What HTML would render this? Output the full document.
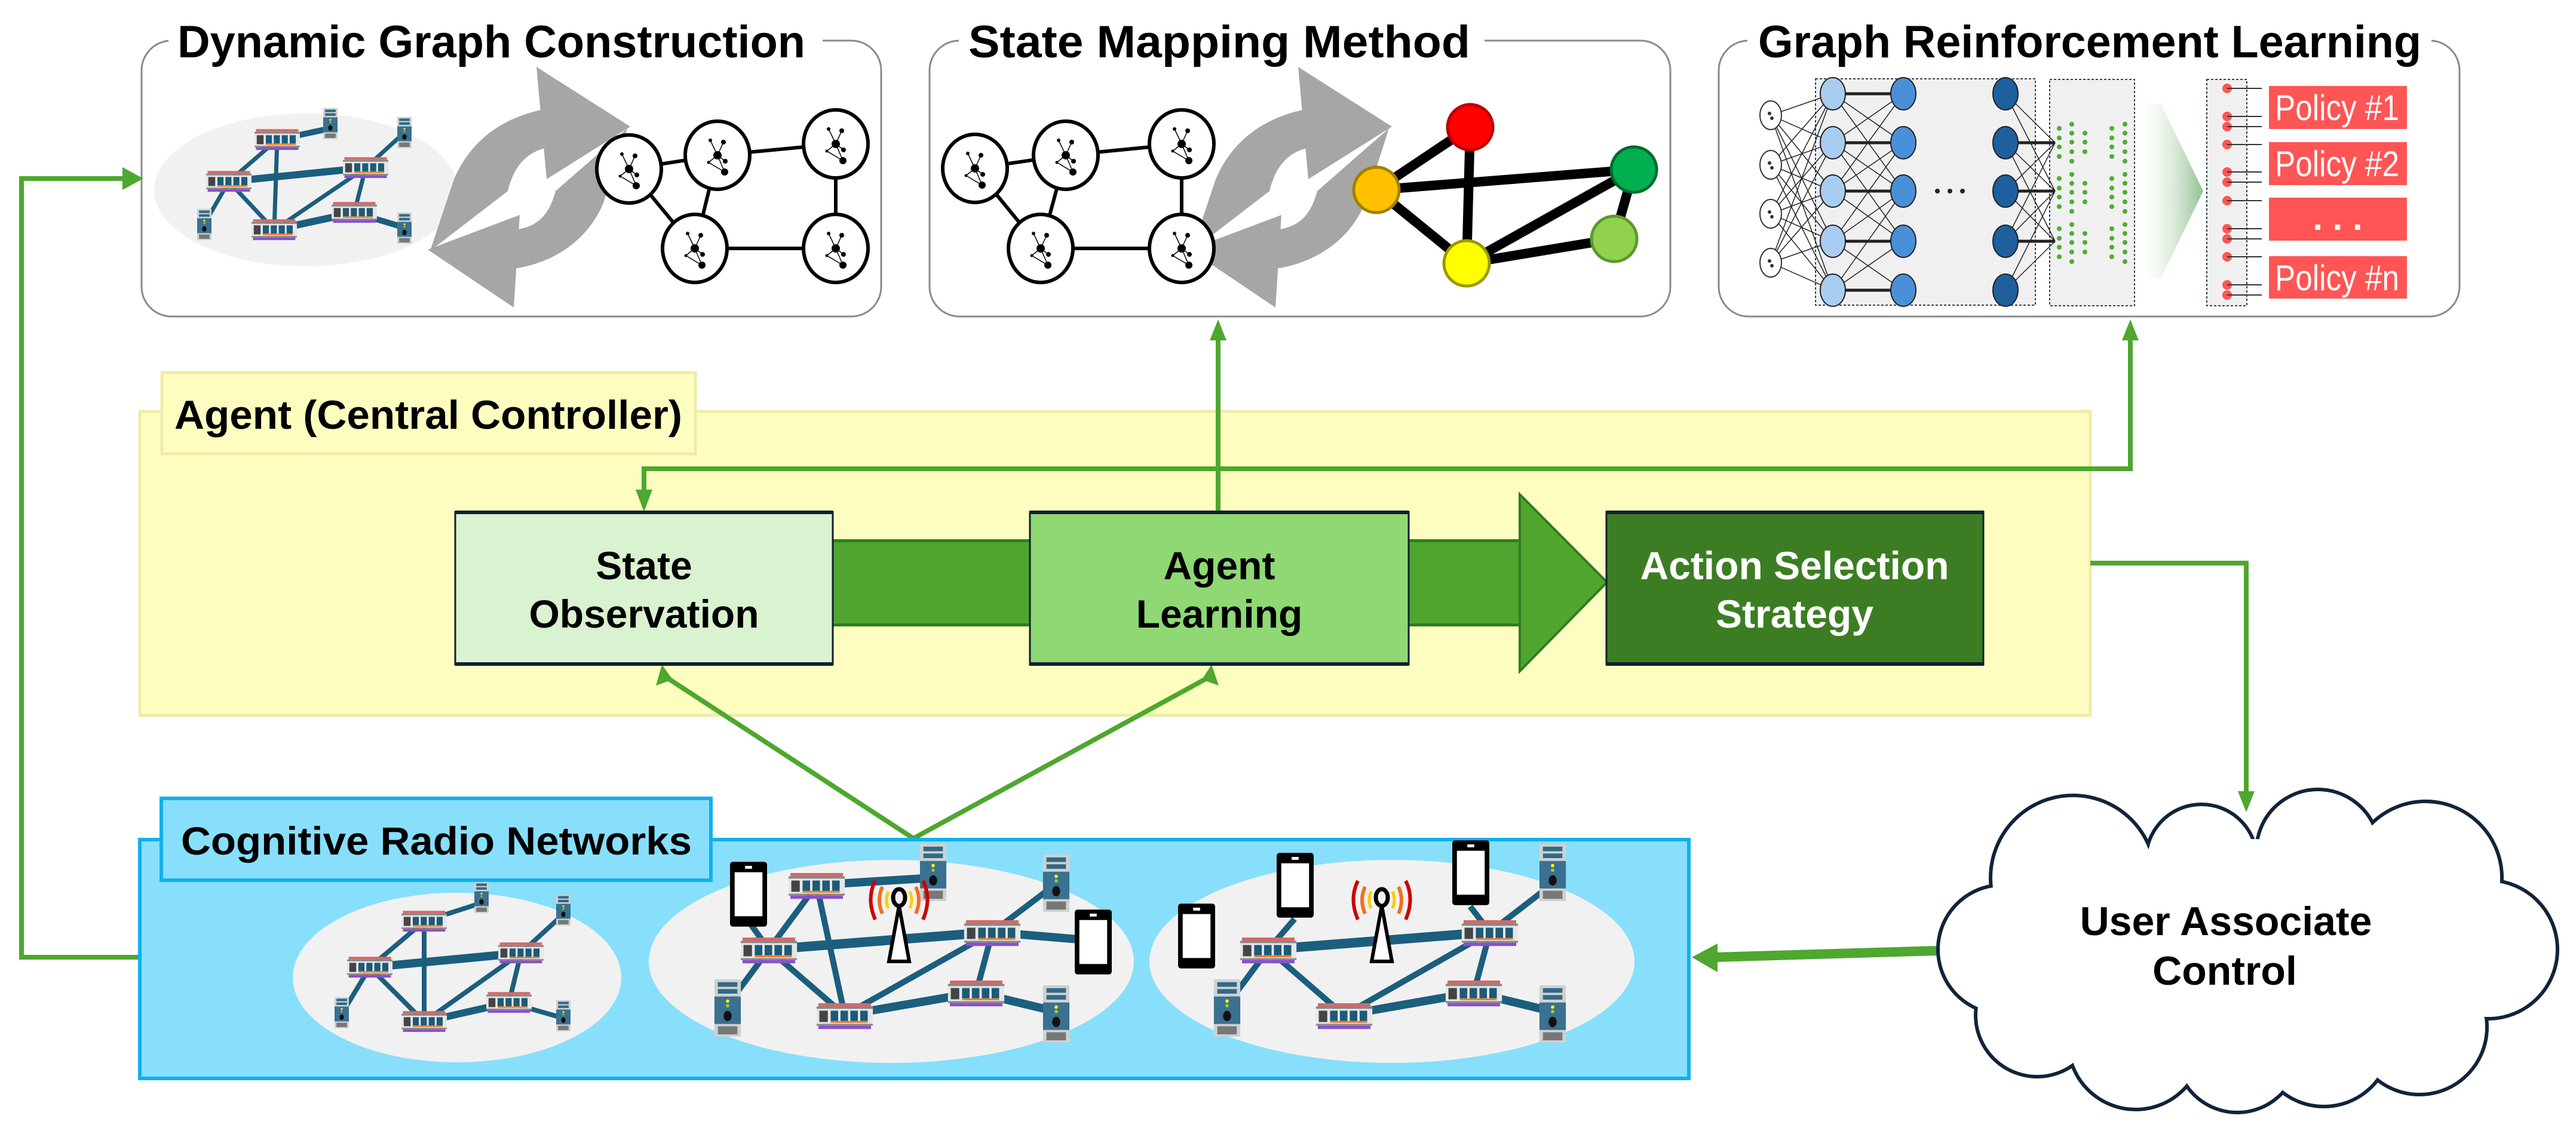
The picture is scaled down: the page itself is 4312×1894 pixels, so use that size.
<!DOCTYPE html>
<html><head><meta charset="utf-8"><style>
html,body{margin:0;padding:0;background:#fff;}
svg{display:block;}
text{font-family:"Liberation Sans",sans-serif;font-weight:bold;}
</style></head><body>
<svg width="4312" height="1894" viewBox="0 0 4312 1894" xmlns="http://www.w3.org/2000/svg">
<defs>
<symbol id="rt" viewBox="0 0 120 56" width="120" height="56">
<rect x="4" y="0" width="112" height="7" fill="#d56868"/>
<rect x="0" y="7" width="120" height="5" fill="#888"/>
<rect x="0" y="12" width="120" height="32" fill="#e6e6e6"/>
<rect x="6" y="16" width="18" height="24" fill="#444"/>
<rect x="30" y="16" width="16" height="22" fill="#1c5a78"/>
<rect x="51" y="16" width="16" height="22" fill="#1c5a78"/>
<rect x="72" y="16" width="16" height="22" fill="#1c5a78"/>
<rect x="93" y="16" width="16" height="22" fill="#1c5a78"/>
<rect x="30" y="38" width="79" height="4" fill="#f08030"/>
<rect x="0" y="44" width="120" height="4" fill="#888"/>
<rect x="4" y="48" width="112" height="7" fill="#8a4fd0"/>
</symbol>
<symbol id="sv" viewBox="0 0 46 100" width="46" height="100">
<rect x="0" y="0" width="46" height="30" fill="#d0d0d0"/>
<rect x="6" y="5" width="34" height="8" fill="#2f6a85"/>
<rect x="6" y="17" width="34" height="8" fill="#2f6a85"/>
<rect x="0" y="30" width="46" height="48" fill="#3a7090"/>
<circle cx="23" cy="38" r="3" fill="#ff0"/>
<circle cx="23" cy="46" r="3" fill="#9c3"/>
<ellipse cx="23" cy="64" rx="7" ry="9" fill="#111"/>
<rect x="0" y="78" width="46" height="22" fill="#d0d0d0"/>
<rect x="6" y="82" width="34" height="14" fill="#777"/>
</symbol>
<symbol id="ph" viewBox="0 0 64 112" width="64" height="112">
<rect x="0" y="0" width="64" height="112" rx="5" fill="#000"/>
<rect x="8" y="18" width="48" height="76" fill="#fff"/>
<rect x="26" y="7" width="12" height="5" fill="#fff"/>
</symbol>
<symbol id="tw" viewBox="0 0 110 150" width="110" height="150">
<path d="M15 10 Q0 40 15 75" stroke="#c00" stroke-width="6" fill="none"/>
<path d="M95 10 Q110 40 95 75" stroke="#c00" stroke-width="6" fill="none"/>
<path d="M27 20 Q17 42 27 65" stroke="#f07020" stroke-width="6" fill="none"/>
<path d="M83 20 Q93 42 83 65" stroke="#f07020" stroke-width="6" fill="none"/>
<path d="M37 28 Q31 42 37 56" stroke="#fc0" stroke-width="5" fill="none"/>
<path d="M73 28 Q79 42 73 56" stroke="#fc0" stroke-width="5" fill="none"/>
<ellipse cx="55" cy="38" rx="10" ry="14" fill="none" stroke="#000" stroke-width="7"/>
<path d="M55 52 L38 145 L72 145 Z" fill="#fff" stroke="#000" stroke-width="6"/>
</symbol>
<symbol id="gn" viewBox="-60 -60 120 120" width="120" height="120">
<ellipse cx="0" cy="0" rx="54" ry="57" fill="#fff" stroke="#000" stroke-width="6"/>
<g stroke="#000" stroke-width="1.5">
<line x1="0" y1="0" x2="-12" y2="-25"/><line x1="0" y1="0" x2="10" y2="-22"/><line x1="0" y1="0" x2="13" y2="10"/><line x1="0" y1="0" x2="12" y2="28"/><line x1="-15" y1="12" x2="12" y2="28"/><line x1="0" y1="0" x2="-15" y2="12"/>
</g>
<g fill="#000"><circle cx="0" cy="0" r="7"/><circle cx="-12" cy="-25" r="3"/><circle cx="10" cy="-22" r="4"/><circle cx="13" cy="10" r="4"/><circle cx="12" cy="28" r="6"/><circle cx="-15" cy="12" r="2.5"/></g>
</symbol>
<linearGradient id="ga" x1="0" x2="1" y1="0" y2="0"><stop offset="0" stop-color="#fff" stop-opacity="0"/><stop offset="1" stop-color="#8fc08f"/></linearGradient>
</defs>

<!-- ===== Panel 1 ===== -->
<rect x="237" y="68" width="1238" height="462" rx="50" fill="#fff" stroke="#8a8a8a" stroke-width="3"/>
<rect x="282" y="30" width="1095" height="80" fill="#fff"/>
<text x="297" y="96" font-size="76" textLength="1051" lengthAdjust="spacingAndGlyphs">Dynamic Graph Construction</text>
<ellipse cx="512" cy="318" rx="254" ry="128" fill="#f1f1f1"/>
<g stroke="#1b5e7e" stroke-width="7">
<line x1="464" y1="234" x2="383" y2="304"/><line x1="464" y1="234" x2="459" y2="385"/><line x1="383" y1="304" x2="612" y2="281" stroke-width="12"/><line x1="383" y1="304" x2="459" y2="385"/><line x1="612" y1="281" x2="459" y2="385"/><line x1="612" y1="281" x2="593" y2="356"/><line x1="459" y1="385" x2="593" y2="356" stroke-width="12"/><line x1="464" y1="234" x2="553" y2="215" stroke-width="10"/><line x1="612" y1="281" x2="677" y2="222"/><line x1="383" y1="304" x2="342" y2="375"/><line x1="593" y1="356" x2="677" y2="381" stroke-width="10"/>
</g>
<g>
<use href="#rt" x="426" y="214" width="76" height="40"/><use href="#rt" x="345" y="284" width="76" height="40"/><use href="#rt" x="574" y="261" width="76" height="40"/><use href="#rt" x="555" y="336" width="76" height="40"/><use href="#rt" x="421" y="365" width="76" height="40"/>
<use href="#sv" x="541" y="172" width="24" height="70"/><use href="#sv" x="665" y="186" width="24" height="72"/><use href="#sv" x="330" y="340" width="24" height="72"/><use href="#sv" x="665" y="346" width="24" height="72"/>
</g>
<g id="arr1" fill="#a6a6a6">
<path d="M720 420 L760 300 C 790 230 850 190 930 180 L 930 245 C 880 250 860 280 850 320 Z"/>
<polygon points="898,112 1055,212 915,300"/>
<path d="M1050 215 L1010 340 C 985 400 930 440 860 450 L 860 385 C 905 380 920 355 930 320 Z"/>
<polygon points="870,360 716,418 860,515"/>
</g>
<g stroke="#000" stroke-width="6">
<line x1="1053" y1="283" x2="1201" y2="260"/><line x1="1201" y1="260" x2="1399" y2="241"/><line x1="1201" y1="260" x2="1163" y2="416"/><line x1="1053" y1="283" x2="1163" y2="416"/><line x1="1163" y1="416" x2="1399" y2="416"/><line x1="1399" y1="241" x2="1399" y2="416"/>
</g>
<use href="#gn" x="993" y="223"/><use href="#gn" x="1141" y="200"/><use href="#gn" x="1339" y="181"/><use href="#gn" x="1103" y="356"/><use href="#gn" x="1339" y="356"/>

<!-- ===== Panel 2 ===== -->
<rect x="1556" y="68" width="1240" height="462" rx="50" fill="#fff" stroke="#8a8a8a" stroke-width="3"/>
<rect x="1605" y="30" width="880" height="80" fill="#fff"/>
<text x="1621" y="96" font-size="76" textLength="840" lengthAdjust="spacingAndGlyphs">State Mapping Method</text>
<use href="#arr1" transform="translate(1275,0)"/>
<g stroke="#000" stroke-width="6">
<line x1="1632" y1="282" x2="1784" y2="260"/><line x1="1784" y1="260" x2="1978" y2="241"/><line x1="1784" y1="260" x2="1742" y2="416"/><line x1="1632" y1="282" x2="1742" y2="416"/><line x1="1742" y1="416" x2="1978" y2="416"/><line x1="1978" y1="241" x2="1978" y2="416"/>
</g>
<use href="#gn" x="1572" y="222"/><use href="#gn" x="1724" y="200"/><use href="#gn" x="1918" y="181"/><use href="#gn" x="1682" y="356"/><use href="#gn" x="1918" y="356"/>
<g stroke="#000" stroke-width="16">
<line x1="2304" y1="318" x2="2461" y2="213"/><line x1="2304" y1="318" x2="2735" y2="284"/><line x1="2304" y1="318" x2="2455" y2="441"/><line x1="2461" y1="213" x2="2455" y2="441"/><line x1="2455" y1="441" x2="2735" y2="284"/><line x1="2455" y1="441" x2="2702" y2="400"/><line x1="2735" y1="284" x2="2702" y2="400"/>
</g>
<circle cx="2461" cy="213" r="38" fill="#f00" stroke="#b00" stroke-width="5"/>
<circle cx="2304" cy="318" r="38" fill="#ffc000" stroke="#a08000" stroke-width="5"/>
<circle cx="2455" cy="441" r="38" fill="#ff0" stroke="#990" stroke-width="5"/>
<circle cx="2735" cy="284" r="38" fill="#00b050" stroke="#006a30" stroke-width="5"/>
<circle cx="2702" cy="400" r="38" fill="#92d050" stroke="#5a9a2a" stroke-width="5"/>

<!-- ===== Panel 3 ===== -->
<rect x="2877" y="68" width="1240" height="462" rx="50" fill="#fff" stroke="#8a8a8a" stroke-width="3"/>
<rect x="2925" y="30" width="1145" height="80" fill="#fff"/>
<text x="2943" y="96" font-size="76" textLength="1110" lengthAdjust="spacingAndGlyphs">Graph Reinforcement Learning</text>
<rect x="3039" y="132" width="368" height="379" fill="#f0f0f0" stroke="#345" stroke-width="2" stroke-dasharray="4 3"/>
<rect x="3431" y="133" width="142" height="379" fill="#f0f0f0" stroke="#345" stroke-width="2" stroke-dasharray="4 3"/>
<g stroke="#222" stroke-width="1.5">
<path d="M2964 193 L3068 157 M2964 193 L3068 239 M2964 193 L3068 320 M2964 193 L3068 404 M2964 193 L3068 486 M2964 276 L3068 157 M2964 276 L3068 239 M2964 276 L3068 320 M2964 276 L3068 404 M2964 276 L3068 486 M2964 358 L3068 157 M2964 358 L3068 239 M2964 358 L3068 320 M2964 358 L3068 404 M2964 358 L3068 486 M2964 440 L3068 157 M2964 440 L3068 239 M2964 440 L3068 320 M2964 440 L3068 404 M2964 440 L3068 486"/>
<path d="M3068 157 L3186 239 M3068 157 L3186 320 M3068 239 L3186 157 M3068 239 L3186 320 M3068 239 L3186 404 M3068 320 L3186 239 M3068 320 L3186 404 M3068 320 L3186 157 M3068 404 L3186 320 M3068 404 L3186 486 M3068 404 L3186 239 M3068 486 L3186 404 M3068 486 L3186 320"/>
<path d="M3357 157 L3440 239 M3357 157 L3440 320 M3357 239 L3440 320 M3357 239 L3440 404 M3357 320 L3440 239 M3357 320 L3440 404 M3357 404 L3440 239 M3357 404 L3440 320 M3357 486 L3440 320 M3357 486 L3440 404"/>
</g>
<g stroke="#222" stroke-width="5"><path d="M3068 157 H3186 M3068 239 H3186 M3068 320 H3186 M3068 404 H3186 M3068 486 H3186 M3357 239 H3440 M3357 320 H3440 M3357 404 H3440"/></g>
<g stroke="#333" stroke-width="2" fill="#fff">
<ellipse cx="2964" cy="193" rx="18" ry="24"/><ellipse cx="2964" cy="276" rx="18" ry="24"/><ellipse cx="2964" cy="358" rx="18" ry="24"/><ellipse cx="2964" cy="440" rx="18" ry="24"/>
</g>
<g fill="#333"><circle cx="2962" cy="190" r="3"/><circle cx="2966" cy="198" r="3"/><circle cx="2962" cy="273" r="3"/><circle cx="2966" cy="281" r="3"/><circle cx="2962" cy="355" r="3"/><circle cx="2966" cy="363" r="3"/><circle cx="2962" cy="437" r="3"/><circle cx="2966" cy="445" r="3"/></g>
<g stroke="#222" stroke-width="2">
<g fill="#a9cdf0"><ellipse cx="3068" cy="157" rx="21" ry="27"/><ellipse cx="3068" cy="239" rx="21" ry="27"/><ellipse cx="3068" cy="320" rx="21" ry="27"/><ellipse cx="3068" cy="404" rx="21" ry="27"/><ellipse cx="3068" cy="486" rx="21" ry="27"/></g>
<g fill="#4a90d9"><ellipse cx="3186" cy="157" rx="21" ry="27"/><ellipse cx="3186" cy="239" rx="21" ry="27"/><ellipse cx="3186" cy="320" rx="21" ry="27"/><ellipse cx="3186" cy="404" rx="21" ry="27"/><ellipse cx="3186" cy="486" rx="21" ry="27"/></g>
<g fill="#1f5f9e"><ellipse cx="3357" cy="157" rx="21" ry="27"/><ellipse cx="3357" cy="239" rx="21" ry="27"/><ellipse cx="3357" cy="320" rx="21" ry="27"/><ellipse cx="3357" cy="404" rx="21" ry="27"/><ellipse cx="3357" cy="486" rx="21" ry="27"/></g>
</g>
<g fill="#222"><circle cx="3243" cy="320" r="4"/><circle cx="3264" cy="320" r="4"/><circle cx="3285" cy="320" r="4"/></g>
<g fill="#4caf30">
<g id="gcl"><circle cx="3447" cy="215" r="4"/><circle cx="3447" cy="231" r="4"/><circle cx="3447" cy="246" r="4"/><circle cx="3447" cy="262" r="4"/><circle cx="3468" cy="208" r="4"/><circle cx="3468" cy="223" r="4"/><circle cx="3468" cy="238" r="4"/><circle cx="3468" cy="254" r="4"/><circle cx="3468" cy="270" r="4"/><circle cx="3490" cy="223" r="4"/><circle cx="3490" cy="238" r="4"/><circle cx="3490" cy="254" r="4"/><circle cx="3535" cy="215" r="4"/><circle cx="3535" cy="231" r="4"/><circle cx="3535" cy="246" r="4"/><circle cx="3535" cy="262" r="4"/><circle cx="3557" cy="208" r="4"/><circle cx="3557" cy="223" r="4"/><circle cx="3557" cy="238" r="4"/><circle cx="3557" cy="254" r="4"/><circle cx="3557" cy="270" r="4"/></g>
<use href="#gcl" y="84"/><use href="#gcl" y="168"/>
</g>
<polygon points="3573,175 3620,175 3620,180 3688,320 3620,460 3620,465 3573,465" fill="url(#ga)"/>
<rect x="3694" y="133" width="67" height="379" fill="#f0f0f0" stroke="#345" stroke-width="2" stroke-dasharray="4 3"/>
<g fill="#f55">
<circle cx="3728" cy="148" r="8"/><circle cx="3728" cy="195" r="8"/><circle cx="3728" cy="212" r="8"/>
<circle cx="3728" cy="242" r="8"/><circle cx="3728" cy="288" r="8"/><circle cx="3728" cy="305" r="8"/>
<circle cx="3728" cy="336" r="8"/><circle cx="3728" cy="383" r="8"/><circle cx="3728" cy="400" r="8"/>
<circle cx="3728" cy="430" r="8"/><circle cx="3728" cy="477" r="8"/><circle cx="3728" cy="494" r="8"/>
</g>
<g stroke="#333" stroke-width="2"><path d="M3728 148H3786M3728 195H3786M3728 212H3786M3728 242H3786M3728 288H3786M3728 305H3786M3728 336H3786M3728 383H3786M3728 400H3786M3728 430H3786M3728 477H3786M3728 494H3786"/></g>
<g fill="#f55">
<rect x="3798" y="144" width="231" height="72"/><rect x="3798" y="238" width="231" height="72"/><rect x="3798" y="331" width="231" height="72"/><rect x="3798" y="429" width="231" height="71"/>
</g>
<g fill="#fff" font-size="60">
<text x="3808" y="201" textLength="208" lengthAdjust="spacingAndGlyphs" style="font-weight:normal">Policy #1</text>
<text x="3808" y="295" textLength="208" lengthAdjust="spacingAndGlyphs" style="font-weight:normal">Policy #2</text>
<text x="3913" y="385" text-anchor="middle" style="font-weight:bold">. . .</text>
<text x="3808" y="486" textLength="208" lengthAdjust="spacingAndGlyphs" style="font-weight:normal">Policy #n</text>
</g>

<!-- ===== Agent ===== -->
<rect x="234" y="689" width="3265" height="509" fill="#fefdc0" stroke="#efeca8" stroke-width="5"/>
<rect x="271" y="624" width="893" height="136" fill="#fefdc0" stroke="#efeca8" stroke-width="5"/>
<text x="292" y="718" font-size="68" textLength="850" lengthAdjust="spacingAndGlyphs">Agent (Central Controller)</text>

<g stroke="#4ea72e" stroke-width="8" fill="none">
<path d="M1078 848 V785 H3566 V560"/>
<path d="M2039 857 V560"/>
<path d="M3499 943 H3760 V1330"/>
<path d="M234 1603 H36 V299 H210"/>
<path d="M1118 1136 L1529 1404 L2020 1136"/>
</g>
<polygon points="1064,820 1092,820 1078,857" fill="#4ea72e"/>
<polygon points="2025,570 2053,570 2039,535" fill="#4ea72e"/>
<polygon points="3552,570 3580,570 3566,535" fill="#4ea72e"/>
<polygon points="3746,1325 3774,1325 3760,1360" fill="#4ea72e"/>
<polygon points="205,280 205,318 240,299" fill="#4ea72e"/>
<polygon points="1098,1148 1126,1138 1108,1113" fill="#4ea72e"/>
<polygon points="2012,1138 2040,1148 2028,1113" fill="#4ea72e"/>
<path d="M3245 1592 L2870 1603" stroke="#4ea72e" stroke-width="16"/>
<polygon points="2875,1580 2875,1628 2832,1603" fill="#4ea72e"/>

<rect x="1394" y="903" width="1150" height="146" fill="#4fa52f"/>
<rect x="1394" y="903" width="1150" height="5" fill="#2e7d1e"/>
<rect x="1394" y="1044" width="1150" height="5" fill="#2e7d1e"/>
<polygon points="2544,828 2690,975 2544,1124" fill="#4fa52f" stroke="#2e7d1e" stroke-width="4"/>

<rect x="762" y="857" width="632" height="256" fill="#d9f2d0" stroke="#0f2030" stroke-width="3"/>
<rect x="762" y="855" width="632" height="6" fill="#0f2030"/><rect x="762" y="1109" width="632" height="6" fill="#0f2030"/>
<text x="1078" y="970" font-size="66" text-anchor="middle">State</text>
<text x="1078" y="1051" font-size="66" text-anchor="middle">Observation</text>

<rect x="1724" y="857" width="634" height="256" fill="#8fd874" stroke="#0f2030" stroke-width="3"/>
<rect x="1724" y="855" width="634" height="6" fill="#0f2030"/><rect x="1724" y="1109" width="634" height="6" fill="#0f2030"/>
<text x="2041" y="970" font-size="66" text-anchor="middle">Agent</text>
<text x="2041" y="1051" font-size="66" text-anchor="middle">Learning</text>

<rect x="2689" y="857" width="631" height="256" fill="#3c7d23" stroke="#0f2030" stroke-width="3"/>
<rect x="2689" y="855" width="631" height="6" fill="#0f2030"/><rect x="2689" y="1109" width="631" height="6" fill="#0f2030"/>
<text x="3004" y="970" font-size="66" text-anchor="middle" fill="#fff">Action Selection</text>
<text x="3004" y="1051" font-size="66" text-anchor="middle" fill="#fff">Strategy</text>

<!-- ===== CRN ===== -->
<rect x="234" y="1406" width="2593" height="400" fill="#87dffc" stroke="#12b0ec" stroke-width="6"/>
<rect x="270" y="1337" width="920" height="137" fill="#87dffc" stroke="#12b0ec" stroke-width="6"/>
<text x="303" y="1431" font-size="66" textLength="855" lengthAdjust="spacingAndGlyphs">Cognitive Radio Networks</text>
<ellipse cx="765" cy="1637" rx="275" ry="142" fill="#f1f1f1"/>
<ellipse cx="1492" cy="1610" rx="406" ry="170" fill="#f1f1f1"/>
<ellipse cx="2330" cy="1610" rx="406" ry="170" fill="#f1f1f1"/>
<g stroke="#1b5e7e" stroke-width="8">
<line x1="710" y1="1543" x2="619" y2="1620"/><line x1="710" y1="1543" x2="710" y2="1711"/><line x1="619" y1="1620" x2="872" y2="1596" stroke-width="14"/><line x1="619" y1="1620" x2="710" y2="1711"/><line x1="872" y1="1596" x2="710" y2="1711"/><line x1="872" y1="1596" x2="852" y2="1679"/><line x1="710" y1="1711" x2="852" y2="1679" stroke-width="12"/><line x1="710" y1="1543" x2="806" y2="1512"/><line x1="872" y1="1596" x2="943" y2="1531"/><line x1="619" y1="1620" x2="572" y2="1698"/><line x1="852" y1="1679" x2="943" y2="1705"/>
</g>
<g stroke="#1b5e7e" stroke-width="10">
<line x1="1367" y1="1482" x2="1287" y2="1590"/><line x1="1367" y1="1482" x2="1414" y2="1700"/><line x1="1287" y1="1590" x2="1661" y2="1561" stroke-width="16"/><line x1="1287" y1="1590" x2="1414" y2="1700"/><line x1="1661" y1="1561" x2="1414" y2="1700"/><line x1="1661" y1="1561" x2="1634" y2="1662"/><line x1="1414" y1="1700" x2="1634" y2="1662" stroke-width="14"/><line x1="1367" y1="1482" x2="1562" y2="1470" stroke-width="14"/><line x1="1661" y1="1561" x2="1768" y2="1480"/><line x1="1287" y1="1590" x2="1218" y2="1683"/><line x1="1634" y1="1662" x2="1768" y2="1694" stroke-width="14"/><line x1="1661" y1="1561" x2="1829" y2="1575" stroke-width="14"/><line x1="1287" y1="1590" x2="1251" y2="1540"/>
</g>
<g stroke="#1b5e7e" stroke-width="10">
<line x1="2123" y1="1590" x2="2494" y2="1561" stroke-width="16"/><line x1="2123" y1="1590" x2="2250" y2="1700"/><line x1="2494" y1="1561" x2="2250" y2="1700"/><line x1="2494" y1="1561" x2="2467" y2="1662"/><line x1="2250" y1="1700" x2="2467" y2="1662" stroke-width="14"/><line x1="2494" y1="1561" x2="2599" y2="1480"/><line x1="2123" y1="1590" x2="2054" y2="1683"/><line x1="2467" y1="1662" x2="2599" y2="1694" stroke-width="14"/><line x1="2123" y1="1590" x2="2167" y2="1539"/><line x1="2494" y1="1561" x2="2461" y2="1518"/>
</g>
<use href="#rt" x="672" y="1523" width="76" height="40"/><use href="#rt" x="581" y="1600" width="76" height="40"/><use href="#rt" x="834" y="1576" width="76" height="40"/><use href="#rt" x="814" y="1659" width="76" height="40"/><use href="#rt" x="672" y="1691" width="76" height="40"/>
<use href="#sv" x="794" y="1468" width="24" height="70"/><use href="#sv" x="931" y="1488" width="24" height="72"/><use href="#sv" x="560" y="1660" width="24" height="72"/><use href="#sv" x="931" y="1665" width="24" height="72"/>
<use href="#sv" x="1539" y="1413" width="46" height="96"/><use href="#sv" x="1745" y="1431" width="46" height="96"/><use href="#sv" x="1195" y="1640" width="46" height="96"/><use href="#sv" x="1745" y="1650" width="46" height="96"/>
<use href="#rt" x="1305" y="1462" width="124" height="44"/><use href="#rt" x="1225" y="1570" width="124" height="44"/><use href="#rt" x="1599" y="1541" width="124" height="44"/><use href="#rt" x="1572" y="1642" width="124" height="44"/><use href="#rt" x="1352" y="1680" width="124" height="44"/>
<use href="#ph" x="1222" y="1440" width="62" height="115"/><use href="#ph" x="1799" y="1520" width="62" height="115"/>
<use href="#tw" x="1450" y="1450" width="110" height="180"/>
<use href="#sv" x="2576" y="1413" width="46" height="96"/><use href="#sv" x="2031" y="1640" width="46" height="96"/><use href="#sv" x="2576" y="1650" width="46" height="96"/>
<use href="#rt" x="2061" y="1570" width="124" height="44"/><use href="#rt" x="2432" y="1541" width="124" height="44"/><use href="#rt" x="2405" y="1642" width="124" height="44"/><use href="#rt" x="2188" y="1680" width="124" height="44"/>
<use href="#ph" x="1972" y="1510" width="62" height="115"/><use href="#ph" x="2137" y="1425" width="62" height="115"/><use href="#ph" x="2431" y="1404" width="62" height="115"/>
<use href="#tw" x="2258" y="1450" width="110" height="180"/>

<!-- ===== Cloud ===== -->
<g stroke="#10243a" stroke-width="12" fill="#fff">
<circle cx="3470" cy="1470" r="135"/><circle cx="3685" cy="1440" r="90"/><circle cx="3880" cy="1425" r="100"/><circle cx="4060" cy="1470" r="125"/><circle cx="4165" cy="1590" r="113"/><circle cx="4050" cy="1720" r="110"/><circle cx="3890" cy="1740" r="110"/><circle cx="3745" cy="1760" r="100"/><circle cx="3575" cy="1745" r="110"/><circle cx="3410" cy="1700" r="100"/><circle cx="3352" cy="1590" r="105"/>
</g>
<g fill="#fff">
<circle cx="3470" cy="1470" r="135"/><circle cx="3685" cy="1440" r="90"/><circle cx="3880" cy="1425" r="100"/><circle cx="4060" cy="1470" r="125"/><circle cx="4165" cy="1590" r="113"/><circle cx="4050" cy="1720" r="110"/><circle cx="3890" cy="1740" r="110"/><circle cx="3745" cy="1760" r="100"/><circle cx="3575" cy="1745" r="110"/><circle cx="3410" cy="1700" r="100"/><circle cx="3352" cy="1590" r="105"/>
<ellipse cx="3760" cy="1595" rx="400" ry="190"/>
</g>
<text x="3726" y="1566" font-size="68" text-anchor="middle">User Associate</text>
<text x="3724" y="1649" font-size="68" text-anchor="middle">Control</text>
</svg>
</body></html>
